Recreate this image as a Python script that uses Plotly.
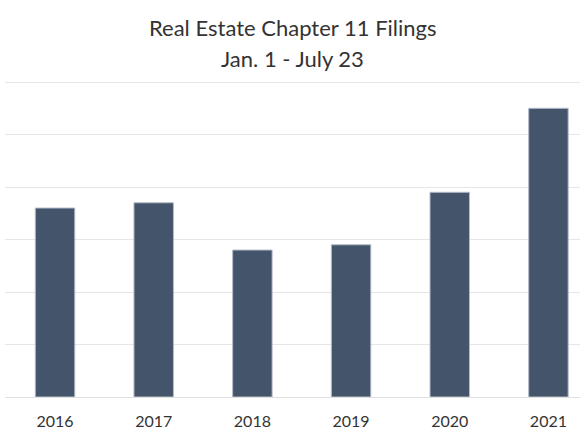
import plotly.graph_objects as go

years = ["2016", "2017", "2018", "2019", "2020", "2021"]
filings = [36, 37, 28, 29, 39, 55]
y_ticks = [0, 10, 20, 30, 40, 50, 60]
title_lines = ["Real Estate Chapter 11 Filings", "Jan. 1 - July 23"]

fig = go.Figure(go.Bar(
    x=list(range(len(years))), y=filings,
    marker=dict(color="#44546a", line=dict(color="#b4bccb", width=1)),
    width=0.4,
))

fig.update_layout(
    width=580, height=435,
    margin=dict(l=5, r=0, t=81, b=38),
    paper_bgcolor="white", plot_bgcolor="white",
    font=dict(family="Lato", color="#333333"),
    showlegend=False,
    bargap=0.6,
    annotations=[
        dict(text=title_lines[0], xref="paper", yref="paper", x=0.5, y=1.17,
             xanchor="center", yanchor="middle", showarrow=False,
             font=dict(size=22, color="#333333")),
        dict(text=title_lines[1], xref="paper", yref="paper", x=0.5, y=1.07,
             xanchor="center", yanchor="middle", showarrow=False,
             font=dict(size=22, color="#333333")),
    ],
)
fig.update_xaxes(range=[-0.507, 5.32], tickvals=list(range(len(years))), ticktext=years,
                 showgrid=False, zeroline=False, showline=False, ticks="",
                 ticklabelstandoff=13,
                 tickfont=dict(size=16, color="#333333"))
fig.update_yaxes(range=[0, 60.2], tickvals=y_ticks, showticklabels=False,
                 showgrid=True, gridcolor="#e6e6e6", gridwidth=1,
                 zeroline=True, zerolinecolor="#e0e0e0", zerolinewidth=1)

fig.write_html("out.html", config={"displayModeBar": False},
               post_script="document.body.style.margin='0';")
